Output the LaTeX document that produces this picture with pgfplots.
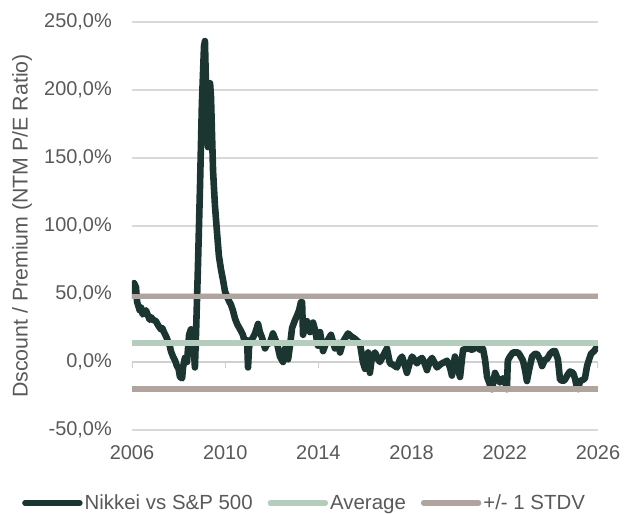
\documentclass[border=0pt]{standalone}
\usepackage{fontspec}
\setmainfont{Liberation Sans}
\usepackage{pgfplots}
\usepackage{pgfplotstable}
\pgfplotsset{compat=1.18}
\definecolor{nikkei}{HTML}{1B3530}
\definecolor{avgc}{HTML}{B4CDBC}
\definecolor{stdvc}{HTML}{B0A49E}
\definecolor{txt}{HTML}{595959}
\definecolor{grd}{HTML}{D9D9D9}
\definecolor{axc}{HTML}{D0D0D0}

\pgfplotstableread{
year val
2006.00 47
2006.05 52
2006.09 58
2006.17 55
2006.22 44
2006.26 42
2006.33 38
2006.39 40
2006.46 35
2006.52 36
2006.60 38
2006.69 34
2006.76 31
2006.82 33
2006.90 31
2007.03 30
2007.12 27
2007.20 25
2007.24 24
2007.30 25
2007.37 22
2007.46 19
2007.55 15
2007.62 12
2007.67 8
2007.76 4
2007.85 1
2007.93 -3
2008.00 -5
2008.06 -11
2008.15 -12
2008.19 -4
2008.27 3
2008.36 0
2008.45 20
2008.53 24
2008.62 20
2008.70 -4
2008.75 22
2008.83 70
2008.92 130
2009.00 190
2009.09 232
2009.13 236
2009.18 200
2009.22 165
2009.26 158
2009.30 185
2009.35 205
2009.39 195
2009.43 170
2009.48 140
2009.56 115
2009.65 95
2009.73 78
2009.82 68
2009.91 60
2009.99 52
2010.08 48
2010.16 45
2010.25 42
2010.33 38
2010.42 32
2010.51 28
2010.64 24
2010.76 20
2010.85 14
2010.94 16
2010.98 -4
2011.02 10
2011.06 14
2011.19 18
2011.28 21
2011.41 28
2011.49 22
2011.58 18
2011.71 10
2011.79 13
2011.92 14
2012.05 21
2012.14 17
2012.22 14
2012.35 4
2012.48 0
2012.57 10
2012.70 2
2012.78 12
2012.87 25
2013.00 31
2013.08 34
2013.17 38
2013.25 44
2013.30 44
2013.34 20
2013.43 26
2013.51 30
2013.64 22
2013.77 29
2013.85 24
2013.98 12
2014.07 22
2014.20 8
2014.33 14
2014.54 20
2014.71 10
2014.84 14
2014.93 7
2015.06 15
2015.27 21
2015.40 19
2015.57 17
2015.70 15
2015.79 13
2015.91 0
2016.00 -5
2016.13 7
2016.21 -8
2016.30 4
2016.43 7
2016.56 2
2016.64 0
2016.82 6
2016.94 10
2017.07 -1
2017.20 -2
2017.37 -4
2017.50 2
2017.59 4
2017.72 -3
2017.80 -8
2017.93 0
2018.02 4
2018.15 1
2018.23 -1
2018.36 2
2018.45 3
2018.58 -2
2018.66 -6
2018.79 1
2018.88 3
2019.00 -1
2019.09 -4
2019.22 -2
2019.30 -1
2019.43 0
2019.52 1
2019.65 -4
2019.73 -10
2019.82 0
2019.86 4
2019.95 -3
2020.08 -11
2020.16 2
2020.21 9
2020.42 10
2020.59 9
2020.81 11
2020.94 9
2021.06 10
2021.15 2
2021.24 -11
2021.37 -17
2021.45 -20
2021.58 -8
2021.71 -13
2021.79 -15
2021.92 -12
2022.01 -14
2022.09 -20
2022.13 1
2022.22 4
2022.35 7
2022.44 7
2022.57 7
2022.65 5
2022.78 1
2022.87 -6
2022.95 -14
2023.04 -6
2023.17 4
2023.30 6
2023.38 6
2023.51 2
2023.60 -3
2023.73 2
2023.81 2
2023.94 6
2024.07 8
2024.16 8
2024.28 2
2024.37 -13
2024.50 -14
2024.58 -13
2024.71 -9
2024.80 -7
2024.93 -8
2025.01 -12
2025.10 -19
2025.14 -20
2025.23 -14
2025.36 -13
2025.44 -12
2025.53 -3
2025.62 2
2025.70 6
2025.83 8
2025.91 10
2025.96 9
}\nikkeidata

\begin{document}
\begin{tikzpicture}
\begin{axis}[
  scale only axis, width=466bp, height=408bp,
  xmin=2006, xmax=2026, ymin=-50, ymax=250,
  axis line style={draw=none},
  major tick length=0pt,
  xtick={2006,2010,2014,2018,2022,2026},
  xticklabels={2006,2010,2014,2018,2022,2026},
  ytick={-50,0,50,100,150,200,250},
  yticklabels={{-50,0\%},{0,0\%},{50,0\%},{100,0\%},{150,0\%},{200,0\%},{250,0\%}},
  tick label style={font=\fontsize{20}{24}\selectfont, text=txt},
  yticklabel style={inner sep=0pt, anchor=east, xshift=-20bp},
  xticklabel style={inner sep=0pt, anchor=north, yshift=-15bp},
  ymajorgrids, grid style={grd, line width=1.2bp},
  every axis y label/.style={at={(rel axis cs:0,0.5)}, xshift=-110bp, rotate=90, anchor=center, font=\fontsize{21.4}{24}\selectfont, text=txt},
  ylabel={Dscount / Premium (NTM P/E Ratio)},
  unbounded coords=jump,
  legend columns=3,
  legend style={at={(rel axis cs:-0.2361,0)}, anchor=west, yshift=-73bp, draw=none, fill=none, inner sep=0pt,
    font=\fontsize{20.5}{24}\selectfont, text=txt,
    /tikz/every even column/.append style={column sep=15bp},
    /tikz/every odd column/.append style={column sep=2bp},
    nodes={inner sep=0pt}},
  legend image code/.code={\draw[#1, line cap=round, line width=5.5bp] (0bp,0bp) -- (55bp,0bp);},
]
\addplot[axc, line width=1.2bp, forget plot] coordinates {(2006,0) (2026,0)};
\addplot[axc, line width=1.2bp, forget plot] coordinates {
  (2006,0) (2006,-4.4) (2006,nan)
  (2010,0) (2010,-4.4) (2010,nan)
  (2014,0) (2014,-4.4) (2014,nan)
  (2018,0) (2018,-4.4) (2018,nan)
  (2022,0) (2022,-4.4) (2022,nan)
  (2026,0) (2026,-4.4)};
\addplot[nikkei, line width=6.6bp, line join=round] table[x=year, y=val] {\nikkeidata};
\addlegendentry{Nikkei vs S\&P 500}
\addplot[avgc, line width=5.5bp] coordinates {(2006,14) (2026,14)};
\addlegendentry{Average}
\addplot[stdvc, line width=5.5bp] coordinates {(2006,48) (2026,48)};
\addlegendentry{+/- 1 STDV}
\addplot[stdvc, line width=5.5bp, forget plot] coordinates {(2006,-20) (2026,-20)};
\coordinate (sw) at (rel axis cs:0,0);
\end{axis}
\path (sw) ++(-132bp,-84bp) rectangle ++(624bp,514bp);
\end{tikzpicture}
\end{document}
